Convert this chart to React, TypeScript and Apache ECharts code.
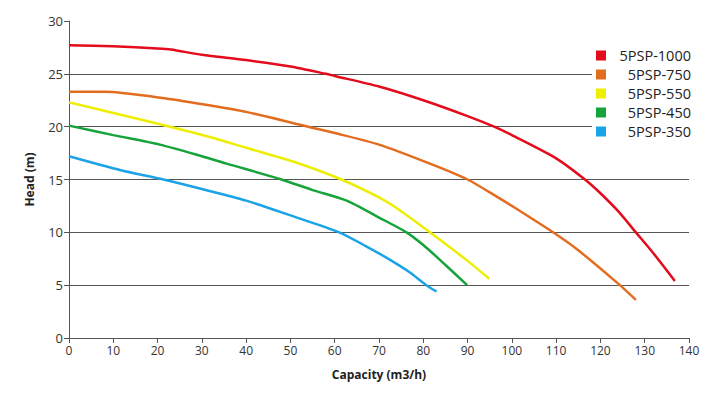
import React, { useEffect, useRef } from "react";
import * as echarts from "echarts";

const seriesNames = ["5PSP-1000", "5PSP-750", "5PSP-550", "5PSP-450", "5PSP-350"];
const seriesColors = ["#e30b1c", "#e36d1f", "#eeee00", "#16a33a", "#1aa3e6"];

const pump1000: number[][] = [
  [0, 27.7], [10, 27.6], [20, 27.4], [23, 27.3], [30, 26.8], [40, 26.3], [50, 25.7],
  [58, 25], [60, 24.8], [70, 23.8], [80, 22.5], [90, 21], [96, 20], [100, 19.2],
  [110, 17], [116.5, 15], [120, 13.7], [124, 12], [128, 10], [132, 8], [136.8, 5.4],
];
const pump750: number[][] = [
  [0, 23.3], [8, 23.3], [23, 22.6], [32, 22], [40, 21.4], [54, 20], [60, 19.4],
  [70, 18.3], [81.5, 16.5], [90, 15], [96.5, 13.4], [100, 12.5], [109.3, 10],
  [115, 8.3], [124.4, 5], [128, 3.6],
];
const pump550: number[][] = [
  [0, 22.3], [10, 21.3], [22.8, 20], [32, 19], [40, 18], [50.6, 16.7], [61.5, 15],
  [70, 13.3], [75, 12], [81.5, 10], [90, 7.3], [94.9, 5.6],
];
const pump450: number[][] = [
  [0, 20.1], [10, 19.2], [20.5, 18.3], [30, 17.2], [35.6, 16.5], [48, 15], [55, 14],
  [62.7, 13], [70, 11.4], [76.2, 10], [80, 8.8], [84, 7.3], [89.9, 5.0],
];
const pump350: number[][] = [
  [0, 17.2], [11.5, 15.9], [21.3, 15], [30, 14.1], [40, 13], [50, 11.6], [61, 10],
  [67, 8.7], [72.5, 7.4], [77, 6.2], [80.7, 5], [83, 4.4],
];
const seriesData = [pump1000, pump750, pump550, pump450, pump350];

const xTitle = "Capacity (m3/h)";
const yTitle = "Head (m)";

export default function App() {
  const ref = useRef<HTMLDivElement>(null);
  useEffect(() => {
    if (!ref.current) return;
    const chart = echarts.init(ref.current, undefined, { renderer: "svg" });
    const font = "'Open Sans', sans-serif";
    chart.setOption({
      animation: false,
      backgroundColor: "#ffffff",
      textStyle: { fontFamily: font },
      grid: { left: 69, right: 27, top: 21, bottom: 58, containLabel: false },
      legend: {
        orient: "vertical",
        left: 592,
        top: 45,
        padding: [3, 8, 3, 4],
        backgroundColor: "#ffffff",
        itemWidth: 10,
        itemHeight: 10,
        itemGap: 4,
        icon: "rect",
        data: seriesNames,
        formatter: "{n|{name}}",
        textStyle: {
          fontFamily: font,
          fontSize: 14.5,
          color: "#222",
          rich: { n: { width: 80, align: "right", fontSize: 14.5, fontFamily: font, color: "#222" } },
        },
      },
      xAxis: {
        type: "value",
        min: 0,
        max: 140,
        interval: 10,
        name: xTitle,
        nameLocation: "middle",
        nameGap: 30,
        nameTextStyle: { fontFamily: font, fontSize: 12, fontWeight: "bold", color: "#222" },
        axisLine: { show: true, lineStyle: { color: "#555", width: 1 } },
        axisTick: { show: true, inside: false, length: 5, lineStyle: { color: "#555" } },
        axisLabel: { fontFamily: font, fontSize: 12, color: "#333", margin: 6 },
        splitLine: { show: false },
      },
      yAxis: {
        type: "value",
        min: 0,
        max: 30,
        interval: 5,
        name: yTitle,
        nameLocation: "middle",
        nameGap: 34,
        nameTextStyle: { fontFamily: font, fontSize: 12, fontWeight: "bold", color: "#222" },
        axisLine: { show: true, lineStyle: { color: "#555", width: 1 } },
        axisTick: { show: true, inside: false, length: 5, lineStyle: { color: "#555" } },
        axisLabel: { fontFamily: font, fontSize: 13, color: "#333", margin: 6 },
        splitLine: {
          show: true,
          lineStyle: { color: "#555", width: 1 },
          showMaxLine: false,
        },
      },
      series: seriesNames.map((name, i) => ({
        name,
        type: "line",
        data: seriesData[i],
        smooth: 0.25,
        showSymbol: false,
        symbol: "none",
        color: seriesColors[i],
        lineStyle: { color: seriesColors[i], width: 2.5 },
      })),
    });
    return () => chart.dispose();
  }, []);
  return <div ref={ref} style={{ width: 716, height: 396, position: "absolute", left: 0, top: 0 }} />;
}
